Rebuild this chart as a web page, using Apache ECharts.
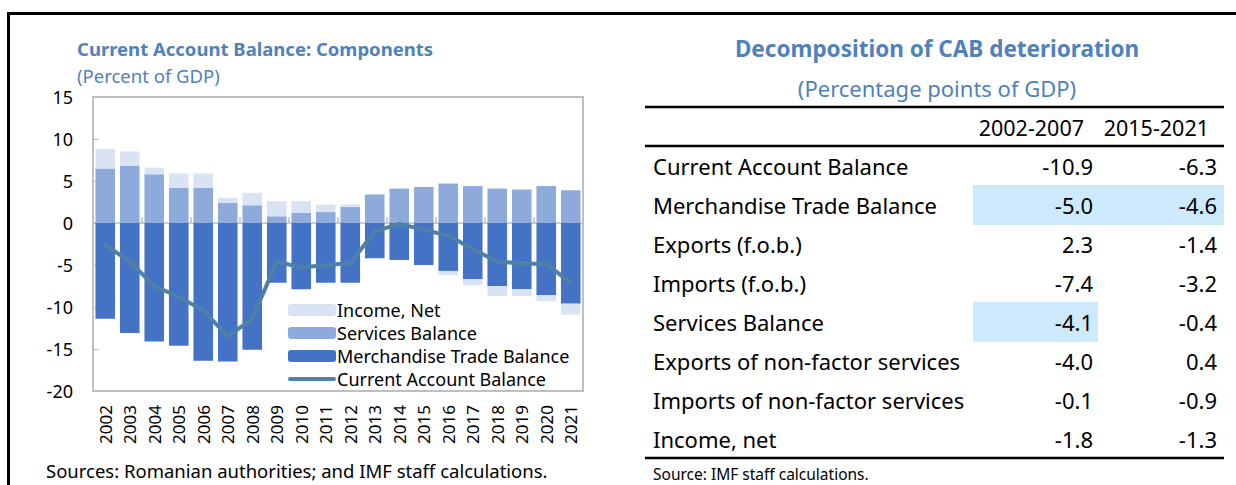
<!DOCTYPE html>
<html>
<head>
<meta charset="utf-8">
<script src="https://cdn.jsdelivr.net/npm/echarts@6/dist/echarts.min.js"></script>
<style>
  html, body { margin: 0; padding: 0; background: #fff; }
  #chart { width: 1236px; height: 485px; }
</style>
</head>
<body>
<div id="chart"></div>
<script>
// ---------- data ----------
const years = ['2002', '2003', '2004', '2005', '2006', '2007', '2008', '2009', '2010', '2011',
  '2012', '2013', '2014', '2015', '2016', '2017', '2018', '2019', '2020', '2021']
const merchandise = [-11.4, -13.1, -14.1, -14.6, -16.4, -16.5, -15.1, -7.1, -7.9, -7.1,
  -7.1, -4.2, -4.4, -5.0, -5.7, -6.7, -7.5, -7.9, -8.6, -9.6]
const services = [6.5, 6.8, 5.8, 4.2, 4.2, 2.4, 2.1, 0.8, 1.2, 1.3,
  1.9, 3.4, 4.1, 4.3, 4.7, 4.4, 4.1, 4.0, 4.4, 3.9]
const incomeNet = [2.3, 1.7, 0.8, 1.7, 1.7, 0.6, 1.5, 1.8, 1.4, 0.9,
  0.3, 0, 0, 0, -0.5, -0.7, -1.2, -0.8, -0.7, -1.3]
const currentAccount = [-2.6, -4.6, -7.5, -8.8, -10.4, -13.5, -11.4, -4.6, -5.3, -5.0,
  -4.8, -1.0, -0.1, -0.8, -1.5, -3.1, -4.6, -4.8, -4.9, -7.1]

const tableRows = ['Current Account Balance', 'Merchandise Trade Balance', 'Exports (f.o.b.)',
  'Imports (f.o.b.)', 'Services Balance', 'Exports of non-factor services',
  'Imports of non-factor services', 'Income, net']
const tableHeads = ['2002-2007', '2015-2021']
const period1 = [-10.9, -5.0, 2.3, -7.4, -4.1, -4.0, -0.1, -1.8]
const period2 = [-6.3, -4.6, -1.4, -3.2, -0.4, 0.4, -0.9, -1.3]

// ---------- style ----------
const FONT = '"Noto Sans", sans-serif'
const BLUE_TXT = '#4f81bd'
const GRAY = '#bfbfbf'
const LINE_CLR = '#4f81a8'

// ---------- table built from the arrays ----------
const rowTop = 166
const rowStep = 39
const col1Right = 1093
const col2Right = 1217
const tableGraphics = []

// highlighted cells (row, col)
const highlights = [[1, 0], [1, 1], [4, 0]]
highlights.forEach(([r, c]) => {
  tableGraphics.push({
    type: 'rect',
    z: 1,
    shape: { x: c === 0 ? 973 : 1098, y: rowTop + r * rowStep - 20, width: c === 0 ? 125 : 126, height: 40 },
    style: { fill: '#cceafb' }
  })
})

tableRows.forEach((label, i) => {
  const y = rowTop + i * rowStep
  tableGraphics.push({
    type: 'text', z: 5, x: 653, y: y,
    style: { text: label, font: '22px ' + FONT, fill: '#000', align: 'left', verticalAlign: 'middle' }
  })
  tableGraphics.push({
    type: 'text', z: 5, x: col1Right, y: y,
    style: { text: period1[i].toFixed(1), font: '22px ' + FONT, fill: '#000', align: 'right', verticalAlign: 'middle' }
  })
  tableGraphics.push({
    type: 'text', z: 5, x: col2Right, y: y,
    style: { text: period2[i].toFixed(1), font: '22px ' + FONT, fill: '#000', align: 'right', verticalAlign: 'middle' }
  })
})

tableHeads.forEach((h, i) => {
  tableGraphics.push({
    type: 'text', z: 5, x: i === 0 ? 1084 : 1209, y: 127,
    style: { text: h, font: '21.5px ' + FONT, fill: '#000', align: 'right', verticalAlign: 'middle' }
  })
})

;[107, 146, 458].forEach(y => {
  tableGraphics.push({
    type: 'line', z: 5,
    shape: { x1: 645, y1: y, x2: 1224, y2: y },
    style: { stroke: '#000', lineWidth: 2.5 }
  })
})

const chart = echarts.init(document.getElementById('chart'), null, { renderer: 'svg' })

const option = {
  animation: false,
  textStyle: { fontFamily: FONT },
  grid: {
    left: 93, top: 97, width: 490, height: 294,
    show: true, borderColor: GRAY, borderWidth: 2, backgroundColor: 'transparent'
  },
  legend: {
    orient: 'vertical',
    left: 283,
    top: 296,
    itemWidth: 48,
    itemHeight: 12,
    itemGap: 5,
    textStyle: { fontSize: 18, color: '#000', fontFamily: FONT, padding: [0, 0, 0, -4] },
    data: [
      { name: 'Income, Net' },
      { name: 'Services Balance' },
      { name: 'Merchandise Trade Balance' },
      { name: 'Current Account Balance', icon: 'path://M2,0 L46,0 A2,2 0 0 1 46,4 L2,4 A2,2 0 0 1 2,0 Z' }
    ]
  },
  xAxis: [
    {
      type: 'category',
      data: years,
      position: 'bottom',
      axisLine: { show: false, onZero: false },
      axisTick: { show: false },
      axisLabel: { rotate: 90, fontSize: 17, color: '#000', margin: 14 }
    },
    {
      type: 'category',
      data: years,
      position: 'top',
      axisLine: { show: true, onZero: true, lineStyle: { color: GRAY, width: 1.5 } },
      axisTick: { show: true, length: 6, lineStyle: { color: GRAY, width: 1.5 } },
      axisLabel: { show: false }
    }
  ],
  yAxis: {
    type: 'value',
    min: -20,
    max: 15,
    interval: 5,
    axisLine: { show: false },
    axisTick: { show: true, inside: true, length: 6, lineStyle: { color: GRAY } },
    splitLine: { show: false },
    axisLabel: { fontSize: 18, color: '#000', margin: 20 }
  },
  series: [
    {
      name: 'Merchandise Trade Balance',
      type: 'bar',
      stack: 'cab',
      barCategoryGap: '20%',
      itemStyle: { color: '#4472c4' },
      data: merchandise
    },
    {
      name: 'Services Balance',
      type: 'bar',
      stack: 'cab',
      itemStyle: { color: '#8eaadb' },
      data: services
    },
    {
      name: 'Income, Net',
      type: 'bar',
      stack: 'cab',
      itemStyle: { color: '#dae3f3' },
      data: incomeNet
    },
    {
      name: 'Current Account Balance',
      type: 'line',
      z: 5,
      symbol: 'none',
      showSymbol: false,
      itemStyle: { color: LINE_CLR },
      lineStyle: { color: LINE_CLR, width: 4, cap: 'round', join: 'round' },
      data: currentAccount
    }
  ],
  graphic: [
    // outer frame
    { type: 'line', shape: { x1: 7, y1: 13.5, x2: 1236, y2: 13.5 }, style: { stroke: '#000', lineWidth: 3 } },
    { type: 'line', shape: { x1: 8.5, y1: 12, x2: 8.5, y2: 485 }, style: { stroke: '#000', lineWidth: 3 } },
    // left panel titles
    {
      type: 'text', x: 77, y: 48,
      style: { text: 'Current Account Balance: Components', font: 'bold 18.5px ' + FONT, fill: BLUE_TXT, verticalAlign: 'middle' }
    },
    {
      type: 'text', x: 77, y: 75,
      style: { text: '(Percent of GDP)', font: '18.5px ' + FONT, fill: BLUE_TXT, verticalAlign: 'middle' }
    },
    {
      type: 'text', x: 46, y: 470,
      style: { text: 'Sources: Romanian authorities; and IMF staff calculations.', font: '18.5px ' + FONT, fill: '#000', verticalAlign: 'middle' }
    },
    // right panel titles
    {
      type: 'text', x: 937, y: 48,
      style: { text: 'Decomposition of CAB deterioration', font: 'bold 22.5px ' + FONT, fill: BLUE_TXT, align: 'center', verticalAlign: 'middle' }
    },
    {
      type: 'text', x: 937, y: 88,
      style: { text: '(Percentage points of GDP)', font: '22px ' + FONT, fill: BLUE_TXT, align: 'center', verticalAlign: 'middle' }
    },
    {
      type: 'text', x: 653, y: 474,
      style: { text: 'Source: IMF staff calculations.', font: '15.5px ' + FONT, fill: '#000', verticalAlign: 'middle' }
    }
  ].concat(tableGraphics)
}

chart.setOption(option)
</script>
</body>
</html>
